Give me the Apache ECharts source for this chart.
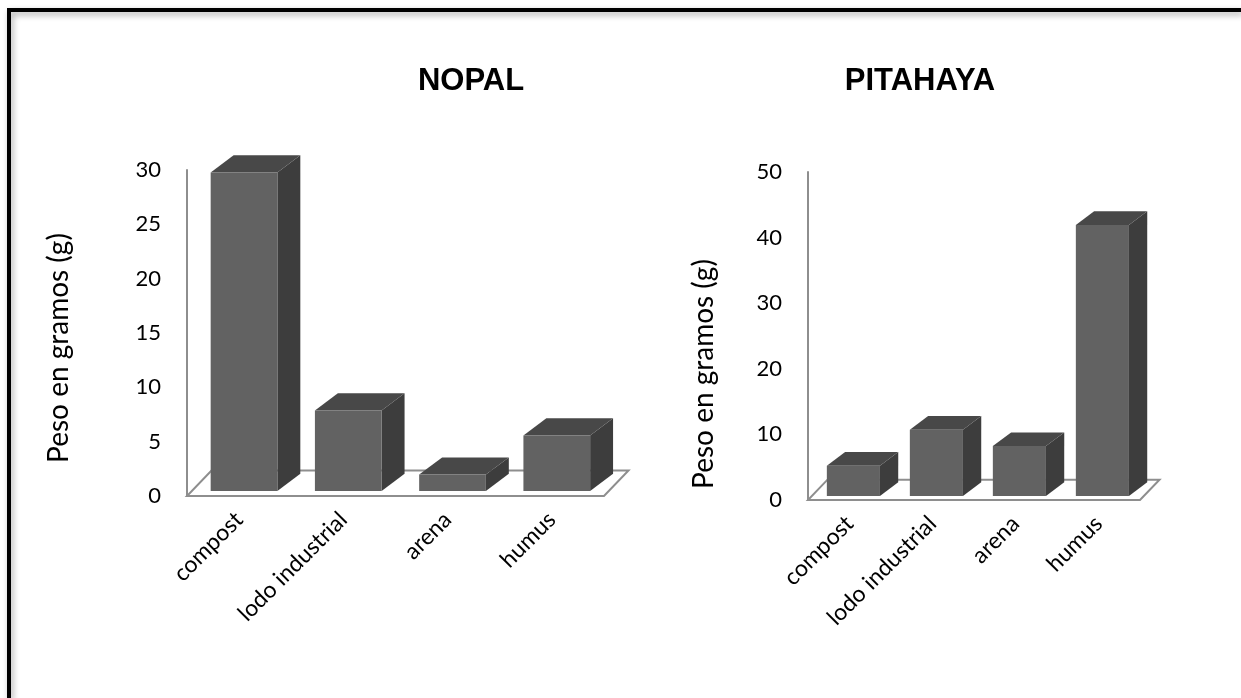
<!DOCTYPE html>
<html>
<head>
<meta charset="utf-8">
<title>NOPAL / PITAHAYA</title>
<script src="https://cdn.jsdelivr.net/npm/echarts@6/dist/echarts.min.js"></script>
<style>
	html, body { margin: 0; padding: 0; background: #fff; }
	#chart { width: 1241px; height: 698px; }
</style>
</head>
<body>
<div id="chart"></div>
<script type="text/javascript">
	// datos
	var categorias = ['compost', 'lodo industrial', 'arena', 'humus'];
	var pesoNopal = [29.3, 7.4, 1.5, 5.1];
	var pesoPitahaya = [4.6, 10.1, 7.6, 41.3];
	var ticksNopal = [0, 5, 10, 15, 20, 25, 30];
	var ticksPitahaya = [0, 10, 20, 30, 40, 50];

	// profundidad del "3D" (fraccion del ancho de banda)
	var FLOOR_DX = 0.235, FLOOR_DY = 0.245;
	var BAR_POS = 0.2, BAR_W = 0.64, BAR_DX = 0.22, BAR_DY = 0.165;
	var FRONT = '#626262', TOPC = '#484848', SIDE = '#3d3d3d';
	var FONT = 'Lato';

	function renderBar(params, api) {
		var cat = api.value(0);
		var band = api.size([1, 0])[0];
		var p0 = api.coord([cat, 0]);
		var p1 = api.coord([cat, api.value(1)]);
		var sx = band * FLOOR_DX * BAR_POS, sy = -band * FLOOR_DY * BAR_POS;
		var w = band * BAR_W;
		var x0 = p0[0] + sx - w / 2, x1 = x0 + w;
		var yb = p0[1] + sy, yt = p1[1] + sy;
		var dx = band * BAR_DX, dy = -band * BAR_DY;
		return {
			type: 'group',
			children: [
				{type: 'polygon', shape: {points: [[x1, yb], [x1 + dx, yb + dy], [x1 + dx, yt + dy], [x1, yt]]}, style: {fill: SIDE}},
				{type: 'polygon', shape: {points: [[x0, yt], [x1, yt], [x1 + dx, yt + dy], [x0 + dx, yt + dy]]}, style: {fill: TOPC}},
				{type: 'rect', shape: {x: x0, y: yt, width: w, height: yb - yt}, style: {fill: FRONT}}
			]
		};
	}

	function renderFloor(params, api) {
		var cs = params.coordSys;
		var band = api.size([1, 0])[0];
		var dx = band * FLOOR_DX, dy = -band * FLOOR_DY;
		var yb = cs.y + cs.height;
		return {
			type: 'polygon',
			shape: {points: [[cs.x, yb], [cs.x + cs.width, yb], [cs.x + cs.width + dx, yb + dy], [cs.x + dx, yb + dy]]},
			style: {fill: '#fff', stroke: '#8e8e8e', lineWidth: 2}
		};
	}

	function yAxisDef(idx, max, interval, gap, pad) {
		return {
			type: 'value', gridIndex: idx, min: 0, max: max, interval: interval,
			name: 'Peso en gramos (g)', nameLocation: 'middle', nameGap: gap, nameRotate: 90,
			nameTextStyle: {fontFamily: FONT, fontSize: 28, color: '#000', padding: pad},
			axisLine: {show: true, lineStyle: {color: '#8e8e8e', width: 2}},
			axisTick: {show: false},
			splitLine: {show: false},
			axisLabel: {fontFamily: FONT, fontSize: 22, color: '#000', margin: 26}
		};
	}

	function xAxisDef(idx) {
		return {
			type: 'category', gridIndex: idx, data: categorias,
			axisLine: {show: false}, axisTick: {show: false},
			axisLabel: {fontFamily: FONT, fontSize: 23, color: '#000', rotate: 45, margin: 20, interval: 0}
		};
	}

	var chart = echarts.init(document.getElementById('chart'));
	var option = {
		backgroundColor: '#fff',
		animation: false,
		title: [
			{text: 'NOPAL', left: 466, top: 61, textAlign: 'center',
				textStyle: {fontFamily: 'Liberation Sans', fontWeight: 'bold', fontSize: 31, color: '#000'}},
			{text: 'PITAHAYA', left: 915, top: 61, textAlign: 'center',
				textStyle: {fontFamily: 'Liberation Sans', fontWeight: 'bold', fontSize: 31, color: '#000'}}
		],
		grid: [
			{left: 187, top: 170, width: 417, height: 326},
			{left: 808, top: 172, width: 332, height: 328}
		],
		xAxis: [xAxisDef(0), xAxisDef(1)],
		yAxis: [
			yAxisDef(0, ticksNopal[ticksNopal.length - 1], ticksNopal[1] - ticksNopal[0], 114, [0, 30, 0, 0]),
			yAxisDef(1, ticksPitahaya[ticksPitahaya.length - 1], ticksPitahaya[1] - ticksPitahaya[0], 90, [0, 76, 0, 0])
		],
		graphic: [{
			type: 'polyline',
			shape: {points: [[9, 698], [9, 10], [1241, 10]]},
			style: {stroke: '#000', lineWidth: 4, fill: null,
				shadowColor: 'rgba(0,0,0,0.35)', shadowBlur: 6, shadowOffsetX: 2, shadowOffsetY: 3},
			z: 10
		}],
		series: [
			{type: 'custom', xAxisIndex: 0, yAxisIndex: 0, data: [[0, 0]], renderItem: renderFloor, z: 1, silent: true},
			{type: 'custom', xAxisIndex: 1, yAxisIndex: 1, data: [[0, 0]], renderItem: renderFloor, z: 1, silent: true},
			{type: 'custom', name: 'NOPAL', xAxisIndex: 0, yAxisIndex: 0, renderItem: renderBar, z: 2,
				encode: {x: 0, y: 1}, data: pesoNopal.map(function (v, i) { return [i, v]; })},
			{type: 'custom', name: 'PITAHAYA', xAxisIndex: 1, yAxisIndex: 1, renderItem: renderBar, z: 2,
				encode: {x: 0, y: 1}, data: pesoPitahaya.map(function (v, i) { return [i, v]; })}
		]
	};
	chart.setOption(option);
</script>
</body>
</html>
